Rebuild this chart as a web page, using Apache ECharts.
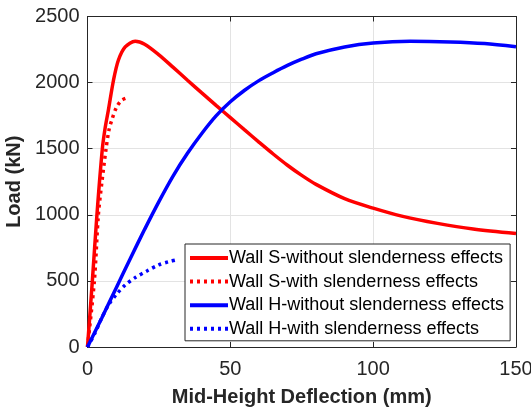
<!DOCTYPE html>
<html>
<head>
<meta charset="utf-8">
<script src="https://cdn.jsdelivr.net/npm/echarts@6/dist/echarts.min.js"></script>
<style>
html,body{margin:0;padding:0;background:#fff;}
#chart{width:531px;height:408px;}
</style>
</head>
<body>
<div id="chart"></div>
<script>
// Data
const seriesNames = [
  'Wall S-without slenderness effects',
  'Wall S-with slenderness effects',
  'Wall H-without slenderness effects',
  'Wall H-with slenderness effects'
];
const sWithoutX = [0, 1.7, 3.3, 5.2, 6.2, 7.3, 9.1, 10.8, 13.2, 16.7, 20, 25, 30, 35, 40, 45, 50, 55, 60, 65, 70, 75, 80, 90, 100, 110, 122.5, 135, 150];
const sWithoutY = [0, 500, 1000, 1500, 1660, 1791, 2018, 2169, 2270, 2313, 2290, 2210, 2115, 2018, 1922, 1828, 1735, 1642, 1550, 1460, 1375, 1298, 1230, 1122, 1050, 990, 935, 892, 858];
const sWithX = [0, 2.4, 3.8, 5.0, 6.5, 7.5, 8.5, 10.2, 12.0, 14.6];
const sWithY = [0, 500, 1000, 1240, 1500, 1640, 1716, 1816, 1867, 1890];
const hWithoutX = [0, 5, 10, 15, 20, 25, 30, 35, 40, 45, 50, 55, 60, 65, 70, 75, 80, 90, 100, 113, 127, 139, 150];
const hWithoutY = [0, 220, 445, 670, 890, 1100, 1295, 1465, 1615, 1748, 1855, 1942, 2015, 2075, 2130, 2177, 2218, 2270, 2300, 2313, 2308, 2296, 2272];
const hWithX = [0, 2.5, 5, 7.3, 10.2, 13.2, 16.7, 20.8, 24.8, 28.4, 31.3];
const hWithY = [0, 100, 220, 317, 400, 469, 525, 575, 620, 645, 660];
const xTicks = [0, 50, 100, 150];
const yTicks = [0, 500, 1000, 1500, 2000, 2500];

function pairs(xs, ys) { return xs.map((x, i) => [x, ys[i]]); }

const FONT = '"Liberation Sans", Arial, Helvetica, sans-serif';
const AXC = '#262626';

const chart = echarts.init(document.getElementById('chart'), null, {renderer: 'canvas'});

const baseX = {
  type: 'value', min: xTicks[0], max: xTicks[xTicks.length - 1], interval: 50
};
const baseY = {
  type: 'value', min: yTicks[0], max: yTicks[yTicks.length - 1], interval: 500
};
const plain = v => String(v);

const option = {
  backgroundColor: '#ffffff',
  animation: false,
  grid: { left: 87.5, right: 15, top: 16.5, bottom: 61, containLabel: false, outerBoundsMode: 'none' },
  xAxis: [
    Object.assign({}, baseX, {
      position: 'bottom',
      name: 'Mid-Height Deflection (mm)',
      nameLocation: 'middle',
      nameGap: 40,
      nameTextStyle: { fontFamily: FONT, fontSize: 20, fontWeight: 'bold', color: AXC },
      axisLine: { show: true, onZero: false, lineStyle: { color: AXC, width: 1 } },
      axisTick: { show: true, inside: true, length: 5, lineStyle: { color: AXC } },
      axisLabel: { fontFamily: FONT, fontSize: 20, color: AXC, margin: 12, formatter: plain },
      splitLine: { show: true, lineStyle: { color: '#e3e3e3', width: 1 } }
    }),
    Object.assign({}, baseX, {
      position: 'top',
      axisLine: { show: true, onZero: false, lineStyle: { color: AXC, width: 1 } },
      axisTick: { show: true, inside: true, length: 5, lineStyle: { color: AXC } },
      axisLabel: { show: false },
      splitLine: { show: false }
    })
  ],
  yAxis: [
    Object.assign({}, baseY, {
      position: 'left',
      name: 'Load (kN)',
      nameLocation: 'middle',
      nameGap: 46,
      nameRotate: 90,
      nameTextStyle: { fontFamily: FONT, fontSize: 20, fontWeight: 'bold', color: AXC },
      axisLine: { show: true, onZero: false, lineStyle: { color: AXC, width: 1 } },
      axisTick: { show: true, inside: true, length: 5, lineStyle: { color: AXC } },
      axisLabel: { fontFamily: FONT, fontSize: 20, color: AXC, margin: 8, formatter: plain },
      splitLine: { show: true, lineStyle: { color: '#e3e3e3', width: 1 } }
    }),
    Object.assign({}, baseY, {
      position: 'right',
      axisLine: { show: true, onZero: false, lineStyle: { color: AXC, width: 1 } },
      axisTick: { show: true, inside: true, length: 5, lineStyle: { color: AXC } },
      axisLabel: { show: false },
      splitLine: { show: false }
    })
  ],
  legend: {
    orient: 'vertical',
    left: 185,
    top: 244,
    backgroundColor: '#ffffff',
    borderColor: AXC,
    borderWidth: 1,
    borderRadius: 0,
    padding: [5, 6, 3, 3],
    itemWidth: 38,
    itemHeight: 14,
    itemGap: 5.6,
    itemStyle: { opacity: 0 },
    lineStyle: { width: 4 },
    data: seriesNames,
    textStyle: { fontFamily: FONT, fontSize: 18, color: '#000', lineHeight: 14, padding: [0, 0, 0, -4] }
  },
  series: [
    { name: seriesNames[0], type: 'line', data: pairs(sWithoutX, sWithoutY), smooth: 0.3, symbol: 'none',
      lineStyle: { color: '#ff0000', width: 3.5 }, itemStyle: { color: '#ff0000' } },
    { name: seriesNames[1], type: 'line', data: pairs(sWithX, sWithY), smooth: 0.3, symbol: 'none',
      lineStyle: { color: '#ff0000', width: 3.5, type: [3, 4] }, itemStyle: { color: '#ff0000' } },
    { name: seriesNames[2], type: 'line', data: pairs(hWithoutX, hWithoutY), smooth: 0.3, symbol: 'none',
      lineStyle: { color: '#0000ff', width: 3.5 }, itemStyle: { color: '#0000ff' } },
    { name: seriesNames[3], type: 'line', data: pairs(hWithX, hWithY), smooth: 0.3, symbol: 'none',
      lineStyle: { color: '#0000ff', width: 3.5, type: [3, 4] }, itemStyle: { color: '#0000ff' } }
  ]
};
chart.setOption(option);
</script>
</body>
</html>
